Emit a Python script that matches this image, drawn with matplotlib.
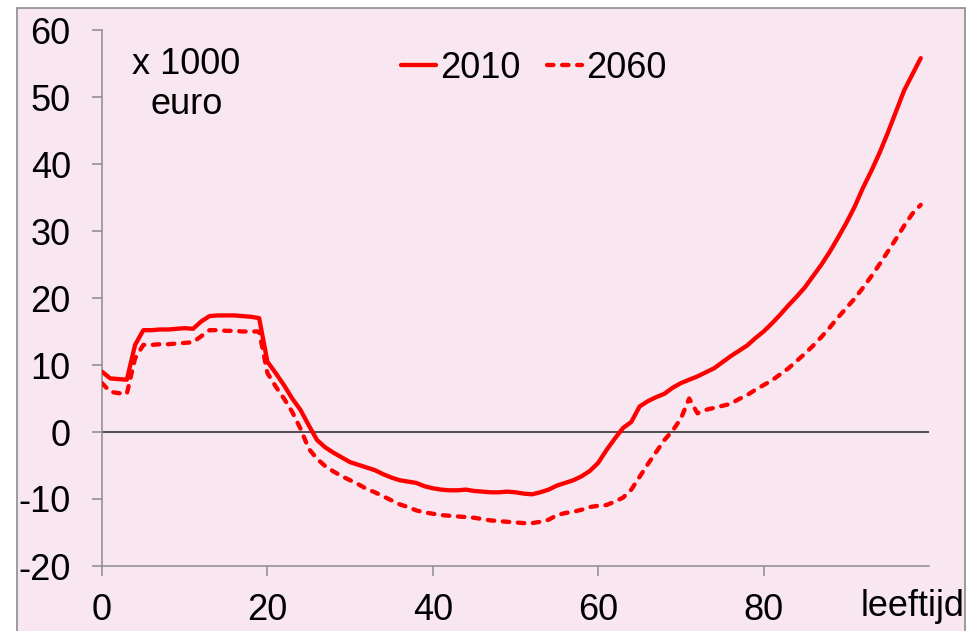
import matplotlib
matplotlib.use("Agg")
import matplotlib.pyplot as plt
from matplotlib.patches import Rectangle

ages = list(range(0, 100))
v2010 = [9.0, 8.0, 7.9, 7.8, 13.0, 15.2, 15.2, 15.3, 15.3, 15.4,
         15.5, 15.4, 16.5, 17.3, 17.4, 17.4, 17.4, 17.3, 17.2, 17.0,
         10.5, 8.8, 7.0, 5.0, 3.3, 1.0, -1.2, -2.3, -3.1, -3.8,
         -4.5, -4.9, -5.3, -5.7, -6.3, -6.8, -7.2, -7.4, -7.6, -8.1,
         -8.4, -8.6, -8.7, -8.7, -8.6, -8.8, -8.9, -9.0, -9.0, -8.9,
         -9.0, -9.2, -9.3, -9.0, -8.6, -8.0, -7.6, -7.2, -6.6, -5.8,
         -4.6, -2.7, -1.0, 0.6, 1.5, 3.8, 4.6, 5.2, 5.7, 6.6,
         7.3, 7.8, 8.3, 8.9, 9.5, 10.4, 11.3, 12.1, 12.9, 14.0,
         15.0, 16.2, 17.5, 18.9, 20.2, 21.6, 23.3, 25.0, 26.9, 29.0,
         31.2, 33.6, 36.4, 38.9, 41.6, 44.6, 47.8, 51.0, 53.4, 55.8]
v2060 = [7.3, 6.0, 5.8, 5.7, 11.0, 13.0, 13.0, 13.1, 13.1, 13.2,
         13.3, 13.4, 14.3, 15.2, 15.2, 15.1, 15.1, 15.0, 15.0, 15.0,
         8.8, 6.8, 5.0, 3.0, 0.5, -2.5, -4.0, -5.1, -5.9, -6.6,
         -7.2, -7.8, -8.5, -9.0, -9.6, -10.2, -10.8, -11.2, -11.7, -12.0,
         -12.2, -12.4, -12.5, -12.6, -12.7, -12.8, -13.0, -13.2, -13.3, -13.4,
         -13.5, -13.6, -13.6, -13.4, -13.1, -12.4, -12.1, -11.9, -11.6, -11.2,
         -11.0, -10.9, -10.4, -9.8, -8.6, -6.7, -4.8, -3.0, -1.2, 0.2,
         2.0, 5.0, 2.8, 3.3, 3.6, 3.9, 4.2, 4.9, 5.5, 6.3,
         7.0, 7.7, 8.6, 9.5, 10.6, 11.7, 12.9, 14.2, 15.6, 17.1,
         18.5, 19.9, 21.5, 23.2, 25.0, 26.9, 28.8, 30.8, 32.6, 33.9]
series_labels = ["2010", "2060"]
xticks = [0, 20, 40, 60, 80]
yticks = [-20, -10, 0, 10, 20, 30, 40, 50, 60]

plt.rcParams['font.family'] = ['Liberation Sans', 'DejaVu Sans']
plt.rcParams['axes.unicode_minus'] = False

pink = '#F8E6F0'
grey = '#8C8C8C'
FS = 26
W, H = 972, 631
fig = plt.figure(figsize=(W / 100, H / 100), dpi=100, facecolor='white')
bg = Rectangle((17 / W, -0.05), (965 - 17) / W, 1.05 - 8 / H,
               transform=fig.transFigure, facecolor=pink,
               edgecolor=grey, linewidth=1.2, zorder=-10)
fig.add_artist(bg)

ax = fig.add_axes([102 / W, 1 - 566 / H, (929 - 102) / W, (566 - 30) / H])
ax.set_facecolor('none')
ax.set_zorder(1)

ax.plot(ages, v2010, color='#FF0000', lw=3.1, solid_capstyle='round',
        solid_joinstyle='round', label=series_labels[0], zorder=3)
ax.plot(ages, v2060, color='#FF0000', lw=3.1, linestyle=(0, (1.5, 2.0)),
        dash_capstyle='round', label=series_labels[1], zorder=3)
ax.axhline(0, color='#222222', lw=1.1, zorder=2)

ax.set_xlim(0, 100)
ax.set_ylim(-20, 60)
ax.set_xticks(xticks)
ax.set_yticks(yticks)
for s in ['top', 'right']:
    ax.spines[s].set_visible(False)
for s in ['left', 'bottom']:
    ax.spines[s].set_color(grey)
    ax.spines[s].set_linewidth(1.1)
ax.tick_params(axis='both', direction='out', length=7.5, width=1.1,
               color=grey, labelsize=FS, labelcolor='black')
ax.tick_params(axis='y', pad=15)
ax.tick_params(axis='x', pad=12)

fig.text(186 / W, 1 - 64 / H, "x 1000", fontsize=FS, ha='center', va='center')
fig.text(187 / W, 1 - 104 / H, "euro", fontsize=FS, ha='center', va='center')
fig.text(964 / W, 1 - 607 / H, "leeftijd", fontsize=FS, ha='right', va='center')

leg = ax.legend(loc='center', bbox_to_anchor=(0.522, 0.929), ncol=2,
                frameon=False, fontsize=FS, handlelength=0.97,
                handletextpad=0.1, columnspacing=0.75, borderpad=0)

fig.savefig('out.png', dpi=100, facecolor='white')
